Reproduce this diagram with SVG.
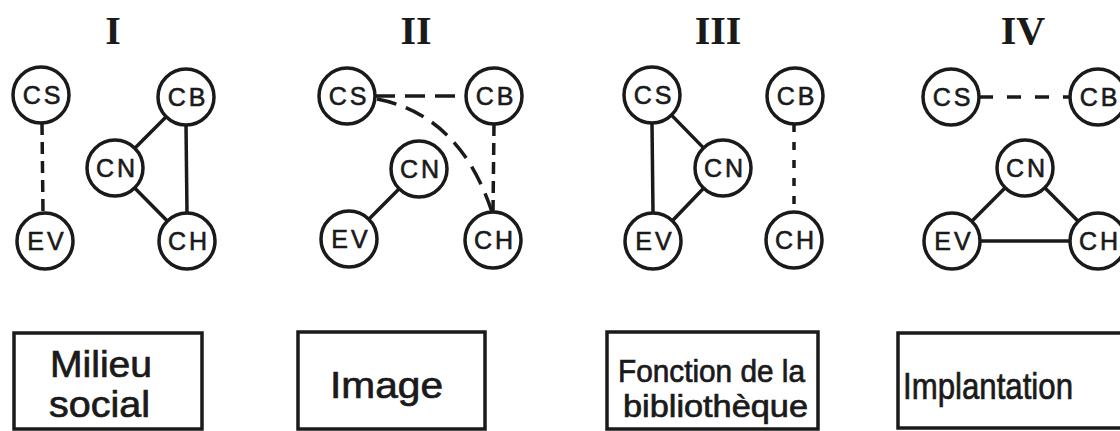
<svg xmlns="http://www.w3.org/2000/svg" width="1120" height="431" viewBox="0 0 1120 431">
<style>
.n circle{fill:#fff;stroke:#1a1a1a;stroke-width:3.5}
.n text{font-family:"Liberation Sans",Arial,sans-serif;font-size:25px;fill:#1a1a1a;stroke:#1a1a1a;stroke-width:0.6;text-anchor:middle;letter-spacing:3px}
.e line,.e path{stroke:#1a1a1a;stroke-width:3.5;fill:none}
.d1{stroke-dasharray:12 7}
.d2{stroke-dasharray:20 10}
.d3{stroke-dasharray:14 14}
.d4{stroke-dasharray:8 10}
.t{font-family:"Liberation Serif","Times New Roman",serif;font-weight:bold;font-size:40px;fill:#1a1a1a;text-anchor:middle}
.box rect{fill:#fff;stroke:#1a1a1a;stroke-width:3.5}
.box text{font-family:"Liberation Sans",Arial,sans-serif;fill:#1a1a1a;stroke:#1a1a1a;stroke-width:0.7}
</style>
<rect width="1120" height="431" fill="#fff"/>
<g id="titles">
<text class="t" x="113" y="44">I</text>
<text class="t" x="416" y="44">II</text>
<text class="t" x="718" y="44">III</text>
<text class="t" x="1023" y="44">IV</text>
</g>
<g id="connectors" class="e">
<line class="d1" x1="42" y1="123" x2="43" y2="213"/>
<line x1="166.2" y1="116.8" x2="134.8" y2="148.2"/>
<line x1="134.7" y1="187.9" x2="167.3" y2="221.1"/>
<line x1="186" y1="125" x2="187" y2="213"/>
<line class="d2" x1="375" y1="96" x2="466" y2="96"/>
<path class="d2" d="M377,99 Q460,115 492,212"/>
<line class="d1" x1="494" y1="124" x2="493" y2="212"/>
<line x1="399.2" y1="188.8" x2="368.8" y2="219.2"/>
<line x1="652" y1="123" x2="653" y2="213"/>
<line x1="671.5" y1="115.1" x2="703.5" y2="147.9"/>
<line x1="703.6" y1="188.2" x2="672.4" y2="220.8"/>
<line class="d4" x1="794" y1="124" x2="794" y2="212"/>
<line class="d3" x1="979" y1="97" x2="1070" y2="97"/>
<line x1="1005.2" y1="187.8" x2="971.8" y2="221.2"/>
<line x1="1044.8" y1="187.8" x2="1078.2" y2="221.2"/>
<line x1="980" y1="241" x2="1070" y2="241"/>
</g>
<g id="p1-cs" class="n"><circle cx="41" cy="95" r="28"/><text x="43" y="104">CS</text></g>
<g id="p1-cb" class="n"><circle cx="186" cy="97" r="28"/><text x="188" y="106">CB</text></g>
<g id="p1-cn" class="n"><circle cx="115" cy="168" r="28"/><text x="117" y="177">CN</text></g>
<g id="p1-ev" class="n"><circle cx="45" cy="241" r="28"/><text x="47" y="250">EV</text></g>
<g id="p1-ch" class="n"><circle cx="187" cy="241" r="28"/><text x="189" y="250">CH</text></g>
<g id="p2-cs" class="n"><circle cx="347" cy="96" r="28"/><text x="349" y="105">CS</text></g>
<g id="p2-cb" class="n"><circle cx="494" cy="96" r="28"/><text x="496" y="105">CB</text></g>
<g id="p2-cn" class="n"><circle cx="419" cy="169" r="28"/><text x="421" y="178">CN</text></g>
<g id="p2-ev" class="n"><circle cx="349" cy="239" r="28"/><text x="351" y="248">EV</text></g>
<g id="p2-ch" class="n"><circle cx="493" cy="240" r="28"/><text x="495" y="249">CH</text></g>
<g id="p3-cs" class="n"><circle cx="652" cy="95" r="28"/><text x="654" y="104">CS</text></g>
<g id="p3-cn" class="n"><circle cx="723" cy="168" r="28"/><text x="725" y="177">CN</text></g>
<g id="p3-ev" class="n"><circle cx="653" cy="241" r="28"/><text x="655" y="250">EV</text></g>
<g id="p3-cb" class="n"><circle cx="795" cy="96" r="28"/><text x="797" y="105">CB</text></g>
<g id="p3-ch" class="n"><circle cx="794" cy="240" r="28"/><text x="796" y="249">CH</text></g>
<g id="p4-cs" class="n"><circle cx="951" cy="97" r="28"/><text x="953" y="106">CS</text></g>
<g id="p4-cb" class="n"><circle cx="1098" cy="97" r="28"/><text x="1100" y="106">CB</text></g>
<g id="p4-cn" class="n"><circle cx="1025" cy="168" r="28"/><text x="1027" y="177">CN</text></g>
<g id="p4-ev" class="n"><circle cx="952" cy="241" r="28"/><text x="954" y="250">EV</text></g>
<g id="p4-ch" class="n"><circle cx="1098" cy="241" r="28"/><text x="1100" y="250">CH</text></g>
<g id="box1" class="box"><rect x="14" y="333" width="188" height="96"/>
<text x="50" y="377" font-size="37" textLength="102" lengthAdjust="spacingAndGlyphs">Milieu</text>
<text x="49" y="417" font-size="37" textLength="101" lengthAdjust="spacingAndGlyphs">social</text></g>
<g id="box2" class="box"><rect x="298" y="332" width="187" height="97"/>
<text x="330" y="398" font-size="37" textLength="113" lengthAdjust="spacingAndGlyphs">Image</text></g>
<g id="box3" class="box"><rect x="607" y="332" width="211" height="97"/>
<text x="618" y="382" font-size="31" textLength="187" lengthAdjust="spacingAndGlyphs">Fonction de la</text>
<text x="623" y="417" font-size="31" textLength="185" lengthAdjust="spacingAndGlyphs">bibliothèque</text></g>
<g id="box4" class="box"><rect x="898" y="333" width="240" height="95"/>
<text x="903" y="399" font-size="37" textLength="170" lengthAdjust="spacingAndGlyphs">Implantation</text></g>
</svg>
